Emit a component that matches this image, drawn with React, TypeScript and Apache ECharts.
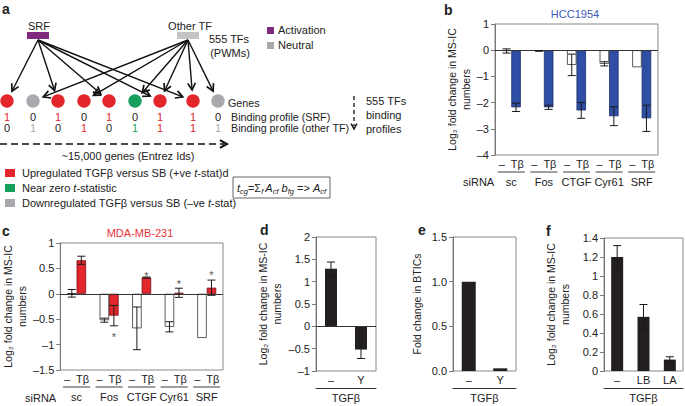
import React, { useEffect, useRef } from 'react';
import * as echarts from 'echarts';

const FF = '"Liberation Sans", Arial, Helvetica, sans-serif';
const INK = '#231f20';
const TXT = '#222';
const RED = '#e3262c';
const BLUE = '#2f4fa6';
const GREEN = '#17a05d';
const GRAY = '#a7a9ac';

// ---- panel b (HCC1954) ----
const bGroups = ['sc', 'Fos', 'CTGF', 'Cyr61', 'SRF'];
const bCtrl = [-0.03, -0.03, -0.56, -0.52, -0.65];
const bCtrlErr = [0.08, 0.01, 0.41, 0.08, 0];
const bTgf = [-2.18, -2.18, -2.3, -2.52, -2.6];
const bTgfErr = [0.16, 0.08, 0.3, 0.36, 0.5];
const bTicks = [-4, 1, 1];

// ---- panel c (MDA-MB-231) ----
const cGroups = ['sc', 'Fos', 'CTGF', 'Cyr61', 'SRF'];
const cCtrl = [0.01, -0.52, -0.68, -0.65, -0.87];
const cCtrlErr = [0.075, 0.04, 0.42, 0.1, 0];
const cTgf = [0.66, -0.43, 0.32, 0.02, 0.12];
const cTgfErr = [0.08, 0.2, 0.01, 0.09, 0.15];
const cStars = [null, -0.8, 0.4, 0.245, 0.43];

// ---- panel d ----
const dCats = ['–', 'Y'];
const dVals = [1.29, -0.52];
const dErr = [0.15, 0.2];

// ---- panel e ----
const eCats = ['–', 'Y'];
const eVals = [1.0, 0.03];

// ---- panel f ----
const fCats = ['–', 'LB', 'LA'];
const fVals = [1.2, 0.57, 0.12];
const fErr = [0.12, 0.13, 0.03];

// ---- panel a diagram ----
const geneKinds = ['up', 'down', 'up', 'up', 'up', 'zero', 'up', 'up', 'down'];
const srfBinding = [1, 0, 1, 0, 1, 0, 1, 1, 0];
const otherBinding = [0, 1, 0, 1, 0, 1, 1, 1, 1];
const geneX = [7, 33, 58, 84, 109, 135, 160, 193, 218];

const kindColor: Record<string, string> = { up: RED, down: GRAY, zero: GREEN };

function txt(x: number, y: number, text: string, o: any = {}) {
  return {
    type: 'text',
    x,
    y,
    silent: true,
    style: {
      text,
      fill: o.fill || TXT,
      font: `${o.style || 'normal'} ${o.weight || 'normal'} ${o.size || 11}px ${FF}`,
      textAlign: o.align || 'left',
      textVerticalAlign: o.va || 'middle',
      rich: o.rich,
    },
  };
}

function arrowHead(x1: number, y1: number, x2: number, y2: number, len = 8, w = 1.7, color = '#111') {
  const a = Math.atan2(y2 - y1, x2 - x1);
  const s = 0.5;
  return {
    type: 'polyline',
    silent: true,
    shape: {
      points: [
        [x2 - len * Math.cos(a - s), y2 - len * Math.sin(a - s)],
        [x2, y2],
        [x2 - len * Math.cos(a + s), y2 - len * Math.sin(a + s)],
      ],
    },
    style: { stroke: color, lineWidth: w, fill: null },
  };
}

function arrow(x1: number, y1: number, cx: number, cy: number, stop = 11) {
  const d = Math.hypot(cx - x1, cy - y1);
  const x2 = cx - ((cx - x1) / d) * stop;
  const y2 = cy - ((cy - y1) / d) * stop;
  return [
    { type: 'line', silent: true, shape: { x1, y1, x2, y2 }, style: { stroke: '#111', lineWidth: 1.4 } },
    arrowHead(x1, y1, x2, y2),
  ];
}

function diagram() {
  const els: any[] = [];
  const geneY = 101;
  const srcSRF = [38, 40];
  const srcOther = [188, 40];
  geneX.forEach((gx, i) => {
    if (srfBinding[i]) els.push(...arrow(srcSRF[0], srcSRF[1], gx, geneY));
    if (otherBinding[i]) els.push(...arrow(srcOther[0], srcOther[1], gx, geneY));
  });
  geneX.forEach((gx, i) => {
    els.push({ type: 'circle', silent: true, shape: { cx: gx, cy: geneY, r: 6.7 }, style: { fill: kindColor[geneKinds[i]] } });
    const c1 = srfBinding[i] ? kindColor[geneKinds[i]] : TXT;
    const c2 = otherBinding[i] ? kindColor[geneKinds[i]] : TXT;
    els.push(txt(gx, 117, String(srfBinding[i]), { align: 'center', fill: c1 }));
    els.push(txt(gx, 128, String(otherBinding[i]), { align: 'center', fill: c2 }));
  });
  els.push(txt(228, 103, 'Genes', { size: 10.7 }));
  els.push(txt(231, 117, 'Binding profile (SRF)', { size: 10.7 }));
  els.push(txt(231, 128, 'Binding profile (other TF)', { size: 10.7 }));
  // TF boxes
  els.push({ type: 'rect', silent: true, shape: { x: 27, y: 32, width: 22, height: 7 }, style: { fill: '#7d2a7f' } });
  els.push({ type: 'rect', silent: true, shape: { x: 177, y: 32, width: 22, height: 7 }, style: { fill: '#c4c4c4' } });
  els.push(txt(39, 26, 'SRF', { align: 'center' }));
  els.push(txt(190, 26, 'Other TF', { align: 'center' }));
  els.push(txt(229, 39, '555 TFs', { align: 'center' }));
  els.push(txt(230, 53, '(PWMs)', { align: 'center' }));
  els.push({ type: 'rect', silent: true, shape: { x: 267, y: 27, width: 7, height: 7 }, style: { fill: '#7d2a7f' } });
  els.push({ type: 'rect', silent: true, shape: { x: 267, y: 42, width: 7, height: 7 }, style: { fill: '#a7a9ac' } });
  els.push(txt(278, 30, 'Activation'));
  els.push(txt(278, 45, 'Neutral'));
  // dashed horizontal arrow
  els.push({ type: 'line', silent: true, shape: { x1: 0, y1: 144, x2: 224, y2: 144 }, style: { stroke: '#111', lineWidth: 1.5, lineDash: [7, 4] } });
  els.push(arrowHead(0, 144, 227, 144, 8, 2));
  els.push(txt(128, 156, '~15,000 genes (Entrez Ids)', { align: 'center' }));
  // dashed vertical arrow
  els.push({ type: 'line', silent: true, shape: { x1: 354, y1: 96, x2: 354, y2: 126 }, style: { stroke: '#111', lineWidth: 1.3, lineDash: [4, 3] } });
  els.push(arrowHead(354, 96, 354, 129, 6, 1.5));
  els.push(txt(366, 101, '555 TFs'));
  els.push(txt(366, 115, 'binding'));
  els.push(txt(366, 129, 'profiles'));
  // colour legend
  els.push({ type: 'rect', silent: true, shape: { x: 5, y: 169, width: 10, height: 8 }, style: { fill: RED } });
  els.push({ type: 'rect', silent: true, shape: { x: 5, y: 184, width: 10, height: 8 }, style: { fill: GREEN } });
  els.push({ type: 'rect', silent: true, shape: { x: 5, y: 199, width: 10, height: 8 }, style: { fill: GRAY } });
  const rn = { fontSize: 11, fontFamily: FF, color: TXT };
  const ri = { fontSize: 11, fontFamily: FF, fontStyle: 'italic', color: TXT };
  els.push(txt(22, 173, '{n|Upregulated TGFβ versus SB (+ve }{i|t}{n|-stat)d}', { rich: { n: rn, i: ri } }));
  els.push(txt(22, 188, '{n|Near zero }{i|t}{n|-statistic}', { rich: { n: rn, i: ri } }));
  els.push(txt(22, 203, '{n|Downregulated TGFβ versus SB (–ve }{i|t}{n|-stat)}', { rich: { n: rn, i: ri } }));
  // formula box
  els.push({ type: 'rect', silent: true, shape: { x: 233, y: 177, width: 97, height: 21 }, style: { fill: 'none', stroke: '#666', lineWidth: 1 } });
  const rs = { fontSize: 7.5, fontFamily: FF, fontStyle: 'italic', color: TXT, verticalAlign: 'bottom' };
  els.push(
    txt(281.5, 188, '{i|t}{s|cg}{n|=Σ}{s|f }{i|A}{s|cf}{i| b}{s|fg}{n| => }{i|A}{s|cf}', {
      align: 'center',
      rich: { n: { ...rn, lineHeight: 15 }, i: { ...ri, lineHeight: 15 }, s: rs },
    })
  );
  return els;
}

function panelLetters() {
  return [
    txt(2, 9, 'a', { weight: 'bold', size: 14 }),
    txt(444, 10, 'b', { weight: 'bold', size: 14 }),
    txt(2, 231, 'c', { weight: 'bold', size: 14 }),
    txt(260, 230, 'd', { weight: 'bold', size: 14 }),
    txt(418, 230, 'e', { weight: 'bold', size: 14 }),
    txt(546, 231, 'f', { weight: 'bold', size: 14 }),
    txt(575, 14, 'HCC1954', { align: 'center', fill: '#3d5cb8' }),
    txt(140, 233, 'MDA-MB-231', { align: 'center', fill: '#e8343a' }),
    txt(463, 182, 'siRNA'),
    txt(25, 398, 'siRNA'),
  ];
}

const minus = (v: number) => String(v).replace('-', '–');

function yAx(gridIndex: number, min: number, max: number, interval: number, name: string, nameGap: number, fmt?: any) {
  return {
    type: 'value',
    gridIndex,
    min,
    max,
    interval,
    name,
    nameLocation: 'middle',
    nameRotate: 90,
    nameGap,
    nameTextStyle: { fontSize: 10.5, lineHeight: 14, color: TXT, fontFamily: FF },
    axisLine: { show: true, lineStyle: { color: '#777' } },
    axisTick: { show: true, length: 4, lineStyle: { color: '#777' } },
    axisLabel: { fontSize: 11, color: TXT, margin: 6, fontFamily: FF, formatter: fmt || minus },
    splitLine: { show: false },
  };
}

function groupX(gridIndex: number, data: string[]) {
  return {
    type: 'category',
    gridIndex,
    data,
    axisLine: { show: false, onZero: false },
    axisTick: { show: false },
    splitLine: { show: false },
    axisLabel: {
      interval: 0,
      margin: 1,
      formatter: (v: string) => `{a|–  Tβ}\n{l|}\n{b|${v}}`,
      rich: {
        a: { fontSize: 11, lineHeight: 16, color: TXT, fontFamily: FF },
        l: { width: 27, height: 0, borderColor: '#444', borderWidth: 0.6 },
        b: { fontSize: 11, lineHeight: 20, color: TXT, fontFamily: FF },
      },
    },
  };
}

function simpleX(gridIndex: number, data: string[]) {
  return {
    type: 'category',
    gridIndex,
    data,
    axisLine: { show: false, onZero: false },
    axisTick: { show: false },
    splitLine: { show: false },
    axisLabel: { interval: 0, margin: 3, fontSize: 11, color: TXT, fontFamily: FF },
  };
}

function bracketX(gridIndex: number, data: string[]) {
  return {
    type: 'category',
    gridIndex,
    data,
    position: 'bottom',
    offset: 17,
    axisLine: { show: true, onZero: false, lineStyle: { color: '#333' } },
    axisTick: { show: false },
    axisLabel: { show: false },
    splitLine: { show: false },
    name: 'TGFβ',
    nameLocation: 'middle',
    nameGap: 4,
    nameTextStyle: { fontSize: 11, color: TXT, fontFamily: FF, verticalAlign: 'top' },
  };
}

function errBars(xAxisIndex: number, yAxisIndex: number, vals: number[], errs: number[], offset: number, cap = 8) {
  return {
    type: 'custom',
    xAxisIndex,
    yAxisIndex,
    z: 10,
    silent: true,
    encode: { x: 0, y: 1 },
    data: vals.map((v, i) => [i, v, errs[i]]),
    renderItem: (params: any, api: any) => {
      const i = api.value(0);
      const m = api.value(1);
      const e = api.value(2);
      if (!e) return null;
      const top = api.coord([i, m + e]);
      const bot = api.coord([i, m - e]);
      const x = top[0] + offset;
      const st = { stroke: '#1a1a1a', lineWidth: 1 };
      return {
        type: 'group',
        children: [
          { type: 'line', shape: { x1: x, y1: top[1], x2: x, y2: bot[1] }, style: st },
          { type: 'line', shape: { x1: x - cap / 2, y1: top[1], x2: x + cap / 2, y2: top[1] }, style: st },
          { type: 'line', shape: { x1: x - cap / 2, y1: bot[1], x2: x + cap / 2, y2: bot[1] }, style: st },
        ],
      };
    },
  };
}

const zeroLine = {
  silent: true,
  symbol: 'none',
  label: { show: false },
  lineStyle: { color: '#333', width: 1, type: 'solid' },
  data: [{ yAxis: 0 }],
};

const gridBase = { show: true, borderColor: '#888', borderWidth: 1, backgroundColor: 'transparent', containLabel: false };

export default function App() {
  const ref = useRef<HTMLDivElement>(null);
  useEffect(() => {
    document.body.style.margin = '0';
    const chart = echarts.init(ref.current!, null, { renderer: 'svg' });
    const BW = 9.5;
    const option: any = {
      animation: false,
      textStyle: { fontFamily: FF },
      grid: [
        { ...gridBase, left: 495, top: 24, width: 163, height: 131 },
        { ...gridBase, left: 58, top: 243, width: 165, height: 127 },
        { ...gridBase, left: 316, top: 237, width: 60, height: 134 },
        { ...gridBase, left: 453, top: 237, width: 63, height: 134 },
        { ...gridBase, left: 604, top: 238, width: 79, height: 133 },
      ],
      xAxis: [
        groupX(0, bGroups),
        groupX(1, cGroups),
        simpleX(2, dCats),
        simpleX(3, eCats),
        simpleX(4, fCats),
        bracketX(2, dCats),
        bracketX(3, eCats),
        bracketX(4, fCats),
      ],
      yAxis: [
        yAx(0, bTicks[0], bTicks[1], bTicks[2], 'Log₂ fold change in MS-IC\nnumbers', 21),
        yAx(1, -1.5, 1, 0.5, 'Log₂ fold change in MS-IC\nnumbers', 30),
        yAx(2, -1, 2, 0.5, 'Log₂ fold change in MS-IC\nnumbers', 32),
        yAx(3, 0, 1.5, 0.5, 'Fold change in BTICs', 29, (v: number) => v.toFixed(1)),
        yAx(4, 0, 1.4, 0.2, 'Log₂ fold change in MS-IC\nnumbers', 32),
      ],
      series: [
        // b
        {
          type: 'bar', xAxisIndex: 0, yAxisIndex: 0, data: bCtrl, barWidth: BW, barGap: '0%',
          itemStyle: { color: '#fff', borderColor: '#333', borderWidth: 0.8 }, markLine: zeroLine,
        },
        {
          type: 'bar', xAxisIndex: 0, yAxisIndex: 0, data: bTgf, barWidth: BW, barGap: '0%',
          itemStyle: { color: BLUE, borderColor: '#1c2d6b', borderWidth: 0.8 },
        },
        errBars(0, 0, bCtrl, bCtrlErr, -BW / 2),
        errBars(0, 0, bTgf, bTgfErr, BW / 2),
        // c
        {
          type: 'bar', xAxisIndex: 1, yAxisIndex: 1, data: cCtrl, barWidth: BW, barGap: '0%',
          itemStyle: { color: '#fff', borderColor: '#333', borderWidth: 0.8 }, markLine: zeroLine,
        },
        {
          type: 'bar', xAxisIndex: 1, yAxisIndex: 1, data: cTgf, barWidth: BW, barGap: '0%',
          itemStyle: { color: RED, borderColor: '#7a1015', borderWidth: 0.8 },
        },
        errBars(1, 1, cCtrl, cCtrlErr, -BW / 2),
        errBars(1, 1, cTgf, cTgfErr, BW / 2),
        {
          type: 'scatter', xAxisIndex: 1, yAxisIndex: 1, symbolSize: 1, silent: true,
          itemStyle: { color: 'transparent' },
          data: cStars.map((v, i) => (v == null ? null : [i, v])).filter((d) => d),
          label: { show: true, formatter: '*', position: 'inside', offset: [BW / 2, 3], fontSize: 11, color: TXT, fontFamily: FF },
        },
        // d
        {
          type: 'bar', xAxisIndex: 2, yAxisIndex: 2, data: dVals, barWidth: 12,
          itemStyle: { color: INK }, markLine: zeroLine,
        },
        errBars(2, 2, dVals, dErr, 0),
        // e
        { type: 'bar', xAxisIndex: 3, yAxisIndex: 3, data: eVals, barWidth: 14, itemStyle: { color: INK } },
        // f
        { type: 'bar', xAxisIndex: 4, yAxisIndex: 4, data: fVals, barWidth: 12, itemStyle: { color: INK } },
        errBars(4, 4, fVals, fErr, 0),
      ],
      graphic: { elements: [...diagram(), ...panelLetters()] },
    };
    chart.setOption(option);
    return () => chart.dispose();
  }, []);
  return <div ref={ref} style={{ width: 685, height: 406, background: '#fff' }} />;
}
